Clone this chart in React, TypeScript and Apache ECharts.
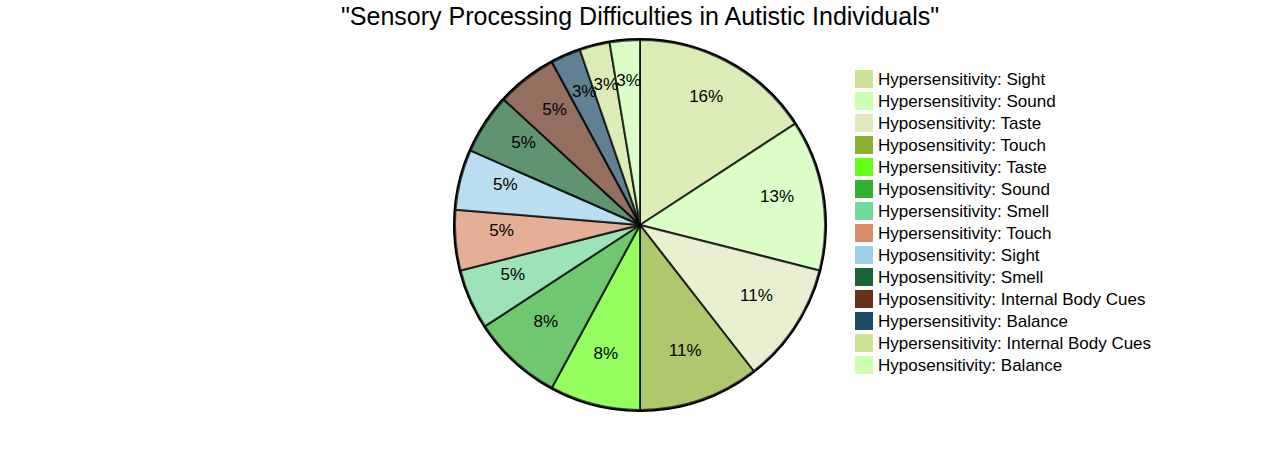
import React, { useEffect, useRef } from "react";
import * as echarts from "echarts";

const titleText = '"Sensory Processing Difficulties in Autistic Individuals"';

const categories = [
  "Hypersensitivity: Sight",
  "Hypersensitivity: Sound",
  "Hyposensitivity: Taste",
  "Hyposensitivity: Touch",
  "Hypersensitivity: Taste",
  "Hyposensitivity: Sound",
  "Hypersensitivity: Smell",
  "Hypersensitivity: Touch",
  "Hyposensitivity: Sight",
  "Hyposensitivity: Smell",
  "Hyposensitivity: Internal Body Cues",
  "Hypersensitivity: Balance",
  "Hypersensitivity: Internal Body Cues",
  "Hyposensitivity: Balance",
];

const values = [30, 25, 20, 20, 15, 15, 10, 10, 10, 10, 10, 5, 5, 5];

const colors = [
  "#cde498",
  "#cdffb2",
  "#dfeabf",
  "#8db030",
  "#66ff1a",
  "#32b032",
  "#72d99a",
  "#d98c6b",
  "#9dcfe8",
  "#1c6635",
  "#663019",
  "#1c4b66",
  "#cde498",
  "#cdffb2",
];

const FONT = "'Liberation Sans', Arial, sans-serif";

export default function App() {
  const ref = useRef<HTMLDivElement>(null);

  useEffect(() => {
    if (!ref.current) return;
    const chart = echarts.init(ref.current, undefined, { renderer: "svg" });
    const total = values.reduce((a, b) => a + b, 0);
    const center = [640, 225];

    chart.setOption({
      animation: false,
      backgroundColor: "#ffffff",
      textStyle: { fontFamily: FONT },
      title: {
        text: titleText,
        left: "center",
        top: 3,
        padding: [0, 0, 0, 0],
        textStyle: { fontSize: 25, fontWeight: "normal", color: "#000", fontFamily: FONT },
      },
      legend: {
        orient: "vertical",
        left: 855,
        top: 70,
        padding: 0,
        itemWidth: 18,
        itemHeight: 18,
        itemGap: 4,
        icon: "rect",
        data: categories,
        selectedMode: false,
        textStyle: { fontSize: 17, color: "#000", fontFamily: FONT, lineHeight: 18 },
        itemStyle: { borderWidth: 0, opacity: 1 },
      },
      series: [
        {
          type: "pie",
          center,
          radius: [0, 185],
          startAngle: 90,
          clockwise: true,
          silent: true,
          label: { show: false },
          labelLine: { show: false },
          data: categories.map((name, i) => ({
            name,
            value: values[i],
            itemStyle: {
              color: colors[i],
              opacity: 0.7,
              borderColor: "#000",
              borderWidth: 2,
            },
          })),
        },
        {
          type: "pie",
          center,
          radius: [0, 186],
          silent: true,
          label: { show: false },
          labelLine: { show: false },
          data: [{ name: "__outer", value: 1, itemStyle: { color: "rgba(0,0,0,0)", borderColor: "#000", borderWidth: 2 } }],
        },
        {
          type: "pie",
          center,
          radius: [87, 185],
          startAngle: 90,
          clockwise: true,
          silent: true,
          avoidLabelOverlap: false,
          labelLayout: { hideOverlap: false },
          labelLine: { show: false },
          itemStyle: { color: "rgba(0,0,0,0)", borderWidth: 0 },
          label: {
            show: true,
            position: "inside",
            fontSize: 17,
            color: "#000",
            fontFamily: FONT,
            offset: [0, -6],
            formatter: (p: any) => Math.round((p.value / total) * 100) + "%",
          },
          data: categories.map((name, i) => ({ name: name + " ", value: values[i] })),
        },
      ],
    });
    return () => chart.dispose();
  }, []);

  return (
    <div
      ref={ref}
      style={{ position: "fixed", left: 0, top: 0, width: 1280, height: 450 }}
    />
  );
}
